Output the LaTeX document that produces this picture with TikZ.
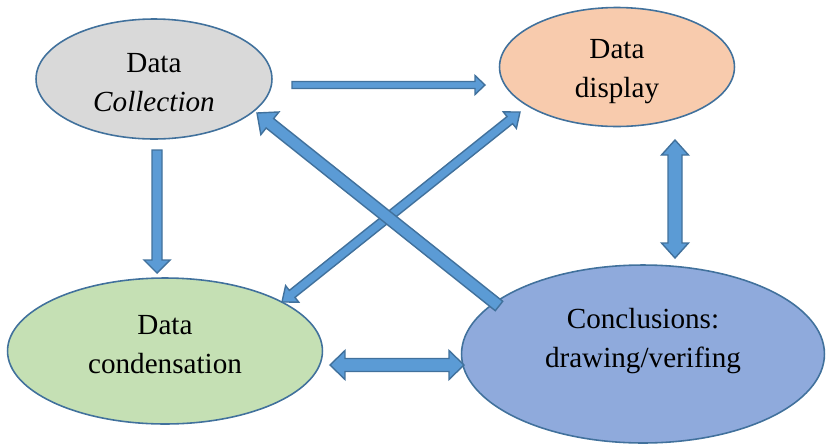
\documentclass[tikz,border=0pt]{standalone}
\usepackage{fontspec}
\setmainfont{Liberation Serif}
\usepackage{tikz}
\usetikzlibrary{calc, shapes.geometric}

\definecolor{arrowfill}{HTML}{5B9BD5}
\definecolor{arrowline}{HTML}{41719C}
\definecolor{collgray}{HTML}{D9D9D9}
\definecolor{dispsalmon}{HTML}{F8CBAD}
\definecolor{condgreen}{HTML}{C5E0B4}
\definecolor{concblue}{HTML}{8FAADC}

% block arrow: from, to, shaft half width, head half width, head length
\newcommand{\blockarrow}[5]{%
    \coordinate (hb) at ($(#2)!#5!(#1)$);
    \draw[barrow] ($(#1)!#3!90:(#2)$) -- ($(hb)!#3!90:(#2)$) -- ($(hb)!#4!90:(#2)$) -- (#2)
        -- ($(hb)!#4!-90:(#2)$) -- ($(hb)!#3!-90:(#2)$) -- ($(#1)!#3!-90:(#2)$) -- cycle;
}
% double block arrow: same arguments, heads at both ends
\newcommand{\dblockarrow}[5]{%
    \coordinate (hb) at ($(#2)!#5!(#1)$);
    \coordinate (ha) at ($(#1)!#5!(#2)$);
    \draw[barrow] (#1) -- ($(ha)!#4!90:(#2)$) -- ($(ha)!#3!90:(#2)$) -- ($(hb)!#3!90:(#2)$)
        -- ($(hb)!#4!90:(#2)$) -- (#2) -- ($(hb)!#4!-90:(#2)$) -- ($(hb)!#3!-90:(#2)$)
        -- ($(ha)!#3!-90:(#2)$) -- ($(ha)!#4!-90:(#2)$) -- cycle;
}

\begin{document}
\begin{tikzpicture}[
            x=0.02cm,
            y=-0.02cm,
            stage/.style={ellipse, draw=arrowline, line width=0.9pt, inner sep=0pt},
            txt/.style={align=center, font=\fontsize{16.6}{22.2}\selectfont},
            barrow/.style={fill=arrowfill, draw=arrowline, line width=0.8pt, line join=miter}
        ]

            \useasboundingbox (0,0) rectangle (826,444);

            % --- Stages ---
            \node[stage, fill=collgray, minimum width=4.72cm, minimum height=2.4cm] (Coll) at (154,79) {};
            \node[stage, fill=dispsalmon, minimum width=4.7cm, minimum height=2.38cm] (Disp) at (617,67) {};
            \node[stage, fill=condgreen, minimum width=6.3cm, minimum height=2.92cm] (Cond) at (165,351) {};
            \node[stage, fill=concblue, minimum width=7.26cm, minimum height=3.56cm] (Conc) at (643,354) {};

            \node[txt] (CollTxt) at ([yshift=-0.07cm]Coll) {Data\\\textit{Collection}};
            \node[txt] (DispTxt) at ([yshift=-0.1cm]Disp) {Data\\display};
            \node[txt] (CondTxt) at ([yshift=0.12cm]Cond) {Data\\condensation};
            \node[txt] (ConcTxt) at ([yshift=0.26cm]Conc) {Conclusions:\\drawing/verifing};

            % --- Arrow ends ---
            \coordinate (A1) at (292,85);
            \coordinate (B1) at (485,85);
            \coordinate (A2) at (157,150);
            \coordinate (B2) at (157,273);
            \coordinate (A3) at (675,140);
            \coordinate (B3) at (675,258);
            \coordinate (A4) at (330,365);
            \coordinate (B4) at (464,365);
            \coordinate (A5) at (499,306);
            \coordinate (B5) at (257,113);
            \coordinate (A6) at (282,302);
            \coordinate (B6) at (520,112);

            % --- Arrows ---
            \blockarrow{A1}{B1}{0.07cm}{0.19cm}{0.2cm}
            \blockarrow{A2}{B2}{0.1cm}{0.26cm}{0.26cm}
            \dblockarrow{A3}{B3}{0.14cm}{0.27cm}{0.3cm}
            \dblockarrow{A4}{B4}{0.13cm}{0.29cm}{0.3cm}
            \dblockarrow{A6}{B6}{0.09cm}{0.21cm}{0.26cm}
            \blockarrow{A5}{B5}{0.12cm}{0.29cm}{0.33cm}

        \end{tikzpicture}
\end{document}
